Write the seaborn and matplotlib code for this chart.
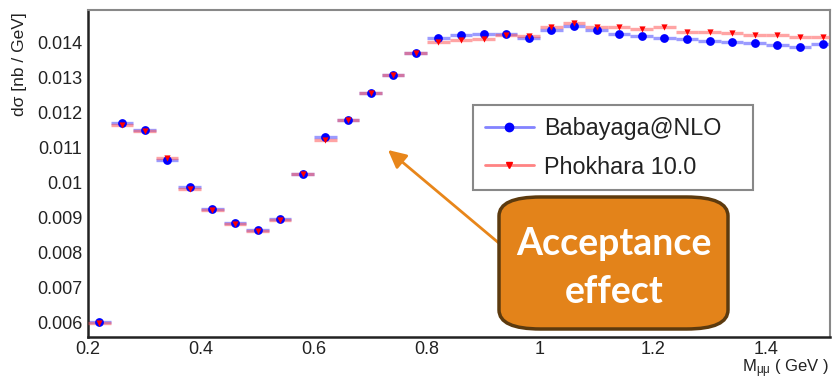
import numpy as np
import pandas as pd
import matplotlib
matplotlib.use("Agg")
import matplotlib.pyplot as plt
from matplotlib.lines import Line2D
from matplotlib.patches import FancyBboxPatch
from matplotlib.ticker import MultipleLocator, FormatStrFormatter
import seaborn as sns

# Bin centres of the invariant-mass histogram (GeV), bin width 0.04
mass = [0.22, 0.26, 0.30, 0.34, 0.38, 0.42, 0.46, 0.50, 0.54, 0.58,
        0.62, 0.66, 0.70, 0.74, 0.78, 0.82, 0.86, 0.90, 0.94, 0.98,
        1.02, 1.06, 1.10, 1.14, 1.18, 1.22, 1.26, 1.30, 1.34, 1.38,
        1.42, 1.46, 1.50]
bin_width = 0.04

babayaga = [0.00602, 0.01171, 0.01151, 0.01065, 0.00987, 0.00925, 0.00884, 0.00865,
            0.00895, 0.01024, 0.01131, 0.01180, 0.01257, 0.01308, 0.01370, 0.01413,
            0.01422, 0.01425, 0.01425, 0.01413, 0.01436, 0.01448, 0.01436, 0.01425,
            0.01420, 0.01413, 0.01410, 0.01405, 0.01401, 0.01398, 0.01394, 0.01389,
            0.01395]
phokhara = [0.00598, 0.01166, 0.01148, 0.01071, 0.00982, 0.00922, 0.00881, 0.00862,
            0.00892, 0.01024, 0.01122, 0.01179, 0.01257, 0.01308, 0.01370, 0.01403,
            0.01408, 0.01411, 0.01421, 0.01419, 0.01446, 0.01457, 0.01446, 0.01444,
            0.01438, 0.01444, 0.01431, 0.01430, 0.01427, 0.01422, 0.01423, 0.01415,
            0.01415]

labels = ["Babayaga@NLO", "Phokhara 10.0"]
callout = "Acceptance\neffect"

df = pd.DataFrame({"mass": mass, "babayaga": babayaga, "phokhara": phokhara})

sns.set_theme(style="white")
plt.rcParams["font.family"] = ["Liberation Sans", "DejaVu Sans"]
plt.rcParams["mathtext.fontset"] = "custom"
plt.rcParams["mathtext.rm"] = "Liberation Sans"
plt.rcParams["mathtext.it"] = "Liberation Sans"

W, H = 832, 380
fig = plt.figure(figsize=(W / 100, H / 100), dpi=100)
ax = fig.add_axes([88 / W, 1 - 337 / H, (830 - 88) / W, (337 - 10) / H])

blue_bar = (0.35, 0.35, 1.0, 0.6)
red_bar = (1.0, 0.35, 0.35, 0.55)

# horizontal bin-width bars
m = df["mass"].to_numpy()
ax.hlines(df["babayaga"], m - bin_width / 2, m + bin_width / 2,
          colors=[blue_bar], linewidth=2.4, zorder=2)
ax.hlines(df["phokhara"], m - bin_width / 2, m + bin_width / 2,
          colors=[red_bar], linewidth=2.4, zorder=3)

sns.scatterplot(data=df, x="mass", y="babayaga", ax=ax, marker="o", s=40,
                color="#0000ff", edgecolor="#0000ff", linewidth=0, zorder=4,
                legend=False)
sns.scatterplot(data=df, x="mass", y="phokhara", ax=ax, marker="v", s=20,
                color="#ff0000", edgecolor="#ff0000", linewidth=0, zorder=5,
                legend=False)

ax.set_xlim(0.2, 0.2 + (830 - 88) / 565)
ax.set_ylim(0.005591, 0.014934)
ax.set_xlabel("")
ax.set_ylabel("")

ax.xaxis.set_major_locator(MultipleLocator(0.2))
ax.xaxis.set_minor_locator(MultipleLocator(0.05))
ax.yaxis.set_major_locator(MultipleLocator(0.001))
ax.yaxis.set_minor_locator(MultipleLocator(0.0002))
ax.xaxis.set_major_formatter(FormatStrFormatter("%g"))
ax.yaxis.set_major_formatter(FormatStrFormatter("%g"))

ax.tick_params(axis="both", which="both", direction="in", colors="#444444",
               labelcolor="#222222", labelsize=13)
ax.tick_params(axis="y", which="major", length=16, width=1.6, pad=4)
ax.tick_params(axis="y", which="minor", length=9, width=1.6)
ax.tick_params(axis="x", which="major", length=9, width=1.4, pad=3)
ax.tick_params(axis="x", which="minor", length=5, width=1.2)
ax.tick_params(top=False, right=False, which="both")

for side in ["left", "bottom"]:
    ax.spines[side].set_color("#222222")
    ax.spines[side].set_linewidth(1.8)
for side in ["top", "right"]:
    ax.spines[side].set_color("#888888")
    ax.spines[side].set_linewidth(1.5)
    ax.spines[side].set_visible(True)

fig.text(20 / W, 1 - 64 / H, "dσ [nb / GeV]", rotation=90, ha="center",
         va="center", fontsize=12.5, color="#222222")
fig.text(829 / W, 1 - 369 / H, r"M$_{\mu\mu}$ ( GeV )", ha="right",
         va="center", fontsize=12, color="#222222")

handles = [
    Line2D([], [], color=(0.35, 0.35, 1.0, 0.75), lw=2, marker="o",
           markersize=6, markerfacecolor="#0000ff", markeredgecolor="#0000ff"),
    Line2D([], [], color=(1.0, 0.35, 0.35, 0.75), lw=2, marker="v",
           markersize=4, markerfacecolor="#ff0000", markeredgecolor="#ff0000"),
]
leg_h = 0.3
leg = fig.legend(handles, labels, loc="upper left",
                 bbox_to_anchor=(473 / W, 1 - 105 / H - leg_h, (753 - 473) / W, leg_h),
                 mode="expand", fontsize=16.8, frameon=True, fancybox=False,
                 framealpha=1, edgecolor="#888888", handlelength=2.1,
                 handletextpad=0.45, labelspacing=0.68, borderpad=0.5,
                 borderaxespad=0)
leg.get_frame().set_linewidth(1.5)
for t in leg.get_texts():
    t.set_color("#222222")

# callout box and arrow
box = FancyBboxPatch((499 / W, 1 - 329 / H), (728 - 499) / W, (329 - 197) / H,
                     boxstyle="round,pad=0,rounding_size=0.05",
                     transform=fig.transFigure, facecolor="#e3831a",
                     edgecolor="#5c3a0e", linewidth=2.5, zorder=10)
fig.add_artist(box)
fig.text(614 / W, 1 - 268 / H, callout, ha="center", va="center",
         fontsize=27, fontweight="bold", color="white", family="Lato",
         linespacing=1.5, zorder=11)
ax.annotate("", xy=(388 / W, 1 - 150 / H), xycoords="figure fraction",
            xytext=(500 / W, 1 - 244 / H), textcoords="figure fraction",
            arrowprops=dict(arrowstyle="-|>,head_length=0.9,head_width=0.45",
                            color="#e8861a", lw=2, shrinkA=0, shrinkB=0),
            zorder=9)

fig.savefig("out.png", dpi=100)
